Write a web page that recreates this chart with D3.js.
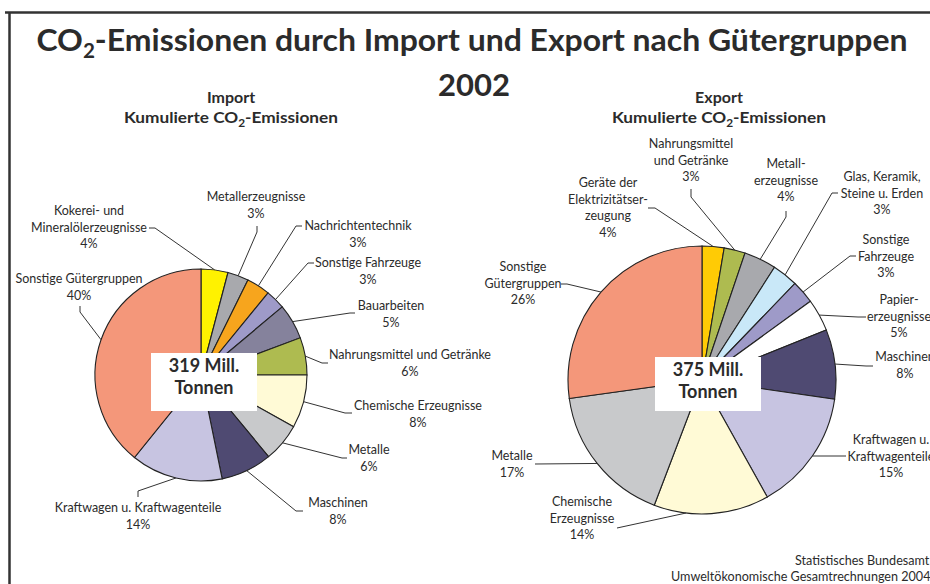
<!DOCTYPE html>
<html>
<head>
<meta charset="utf-8">
<script src="https://cdn.jsdelivr.net/npm/d3@7"></script>
<style>
  body { margin: 0; background: #fff; }
  svg { display: block; }
  text { font-family: Lato, "Open Sans", sans-serif; fill: #2b2b2b; }
</style>
</head>
<body>
<svg id="chart"></svg>
<script>
// Import, kumulierte CO2-Emissionen, clockwise from 12 o'clock
const importCategories = ["Kokerei- und\nMineralölerzeugnisse", "Metallerzeugnisse", "Nachrichtentechnik", "Sonstige Fahrzeuge", "Bauarbeiten", "Nahrungsmittel und Getränke", "Chemische Erzeugnisse", "Metalle", "Maschinen", "Kraftwagen u. Kraftwagenteile", "Sonstige Gütergruppen"];
const importValues = [4.1, 3.2, 3.6, 3.0, 5.4, 5.7, 8.1, 5.9, 7.8, 14.0, 39.2];
const importPercent = ["4%", "3%", "3%", "3%", "5%", "6%", "8%", "6%", "8%", "14%", "40%"];
const importTotal = ["319 Mill.", "Tonnen"];

// Export
const exportCategories = ["Geräte der\nElektrizitätser-\nzeugung", "Nahrungsmittel\nund Getränke", "Metall-\nerzeugnisse", "Glas, Keramik,\nSteine u. Erden", "Sonstige\nFahrzeuge", "Papier-\nerzeugnisse", "Maschinen", "Kraftwagen u.\nKraftwagenteile", "Chemische\nErzeugnisse", "Metalle", "Sonstige\nGütergruppen"];
const exportValues = [2.65, 2.55, 3.9, 3.1, 2.8, 3.9, 8.4, 14.6, 13.9, 17.0, 27.2];
const exportPercent = ["4%", "3%", "4%", "3%", "3%", "5%", "8%", "15%", "14%", "17%", "26%"];
const exportTotal = ["375 Mill.", "Tonnen"];

const importColors = ["#fff200", "#a8a9ad", "#f7a51d", "#9e9ac8", "#85829c", "#aebb50", "#fffad6", "#c8c9cb", "#4f4a72", "#c7c4e1", "#f4977a"];
const exportColors = ["#ffcb05", "#aebb50", "#a8a9ad", "#c9e8f8", "#9e9ac8", "#ffffff", "#4f4a72", "#c7c4e1", "#fffad6", "#c8c9cb", "#f4977a"];

// label placement: first line centre, leader elbow and leader end
const importLayout = [
    { x: 89, y: 211, elbow: [155, 228], end: [149, 228] },
    { x: 256, y: 197, elbow: [257, 232], end: [257, 226] },
    { x: 358, y: 226, elbow: [296, 226], end: [302, 226] },
    { x: 368, y: 263, elbow: [308, 263], end: [314, 263] },
    { x: 391, y: 306, elbow: [350, 313], end: [355, 313] },
    { x: 410, y: 355, elbow: [322, 363], end: [328, 363] },
    { x: 418, y: 406, elbow: [345, 413], end: [352, 413] },
    { x: 369, y: 450, elbow: [342, 458], end: [347, 458] },
    { x: 338, y: 503, elbow: [296, 511], end: [303, 511] },
    { x: 138, y: 508, elbow: [138, 491], end: [138, 497] },
    { x: 79, y: 279, elbow: [80, 312], end: [80, 306] }
];
const exportLayout = [
    { x: 608, y: 183, elbow: [655, 208], end: [648, 208] },
    { x: 691, y: 144, elbow: [691, 197], end: [691, 189] },
    { x: 786, y: 164, elbow: [786, 217], end: [786, 211] },
    { x: 882, y: 177, elbow: [832, 193], end: [838, 193] },
    { x: 886, y: 240, elbow: [850, 256], end: [856, 256] },
    { x: 899, y: 300, elbow: [858, 317], end: [866, 317] },
    { x: 905, y: 357, elbow: [866, 366], end: [873, 366] },
    { x: 891, y: 440, elbow: [840, 456], end: [846, 456] },
    { x: 582, y: 502, elbow: [617, 528], end: [617, 528], at: 0.72 },
    { x: 512, y: 456, elbow: [535, 464], end: [535, 464] },
    { x: 523, y: 267, elbow: [567, 284], end: [561, 284] }
];

const width = 930, height = 584;
const lineH = 16.5;

const svg = d3.select("#chart")
    .attr("width", width)
    .attr("height", height);

svg.append("rect").attr("width", width).attr("height", height).attr("fill", "#fff");

// frame
svg.append("path")
   .attr("d", "M5,12.5H935M9.5,12V590")
   .attr("fill", "none")
   .attr("stroke", "#333")
   .attr("stroke-width", 2.5);

// title
const title = svg.append("text")
    .attr("x", 472).attr("y", 51)
    .attr("text-anchor", "middle")
    .attr("font-size", 31)
    .attr("font-weight", "bold")
    .attr("fill", "#222")
    .attr("textLength", 871)
    .attr("lengthAdjust", "spacingAndGlyphs");
title.append("tspan").text("CO");
title.append("tspan").attr("font-size", 20).attr("dy", 7).text("2");
title.append("tspan").attr("dy", -7).text("-Emissionen durch Import und Export nach Gütergruppen");

svg.append("text")
   .attr("x", 474).attr("y", 96)
   .attr("text-anchor", "middle")
   .attr("font-size", 31)
   .attr("font-weight", "bold")
   .attr("fill", "#222")
   .text("2002");

const subtitle = (cx, name) => {
    svg.append("text")
       .attr("x", cx).attr("y", 103)
       .attr("text-anchor", "middle")
       .attr("font-size", 16)
       .attr("font-weight", "bold")
       .text(name);
    const t = svg.append("text")
       .attr("x", cx).attr("y", 123)
       .attr("text-anchor", "middle")
       .attr("font-size", 16)
       .attr("font-weight", "bold")
       .attr("textLength", 214)
       .attr("lengthAdjust", "spacingAndGlyphs");
    t.append("tspan").text("Kumulierte CO");
    t.append("tspan").attr("font-size", 11).attr("dy", 4).text("2");
    t.append("tspan").attr("dy", -4).text("-Emissionen");
};
subtitle(231, "Import");
subtitle(719, "Export");

const drawPie = (cats, vals, pcts, total, colors, layout, cx, cy, r, box) => {
    const g = svg.append("g");

    const pie = d3.pie().sort(null).value(d => d);
    const arcs = pie(vals);
    const arc = d3.arc().innerRadius(0).outerRadius(r);

    g.selectAll("path.slice")
     .data(arcs)
     .enter()
     .append("path")
     .attr("class", "slice")
     .attr("transform", `translate(${cx},${cy})`)
     .attr("d", arc)
     .attr("fill", (_, i) => colors[i])
     .attr("stroke", "#222")
     .attr("stroke-width", 1.1);

    // leader lines
    g.selectAll("polyline")
     .data(arcs)
     .enter()
     .append("polyline")
     .attr("points", (d, i) => {
         const L = layout[i];
         const f = L.at === undefined ? 0.5 : L.at;
         const a = d.startAngle + (d.endAngle - d.startAngle) * f;
         const p = [cx + r * Math.sin(a), cy - r * Math.cos(a)];
         return [p, L.elbow, L.end].map(q => q.join(",")).join(" ");
     })
     .attr("fill", "none")
     .attr("stroke", "#333")
     .attr("stroke-width", 1);

    // labels
    cats.forEach((c, i) => {
        const L = layout[i];
        const lines = c.split("\n").concat([pcts[i]]);
        const t = g.append("text")
            .attr("x", L.x).attr("y", L.y)
            .attr("text-anchor", "middle")
            .attr("font-size", 12.5);
        lines.forEach((s, k) => {
            t.append("tspan")
             .attr("x", L.x)
             .attr("y", L.y + k * lineH)
             .attr("dy", "0.35em")
             .text(s);
        });
    });

    // total box
    g.append("rect")
     .attr("x", cx + box.dx).attr("y", cy + box.dy)
     .attr("width", box.w).attr("height", box.h)
     .attr("fill", "#fff");
    total.forEach((s, k) => {
        g.append("text")
         .attr("x", cx + box.dx + box.w / 2)
         .attr("y", cy + box.dy + 13 + k * 22)
         .attr("dy", "0.35em")
         .attr("text-anchor", "middle")
         .attr("font-size", 18)
         .attr("font-weight", "bold")
         .attr("fill", "#222")
         .text(s);
    });
};

drawPie(importCategories, importValues, importPercent, importTotal, importColors, importLayout,
        201, 375, 106, { dx: -50, dy: -22, w: 106, h: 58 });
drawPie(exportCategories, exportValues, exportPercent, exportTotal, exportColors, exportLayout,
        702, 380, 134, { dx: -47, dy: -23, w: 106, h: 54 });

// source
svg.append("text")
   .attr("x", 795).attr("y", 565)
   .attr("font-family", "'Liberation Sans', Arial, sans-serif")
   .attr("font-size", 12.6)
   .attr("fill", "#222")
   .text("Statistisches Bundesamt");
svg.append("text")
   .attr("x", 671).attr("y", 581)
   .attr("font-family", "'Liberation Sans', Arial, sans-serif")
   .attr("font-size", 12.6)
   .attr("fill", "#222")
   .text("Umweltökonomische Gesamtrechnungen 2004");
</script>
</body>
</html>
